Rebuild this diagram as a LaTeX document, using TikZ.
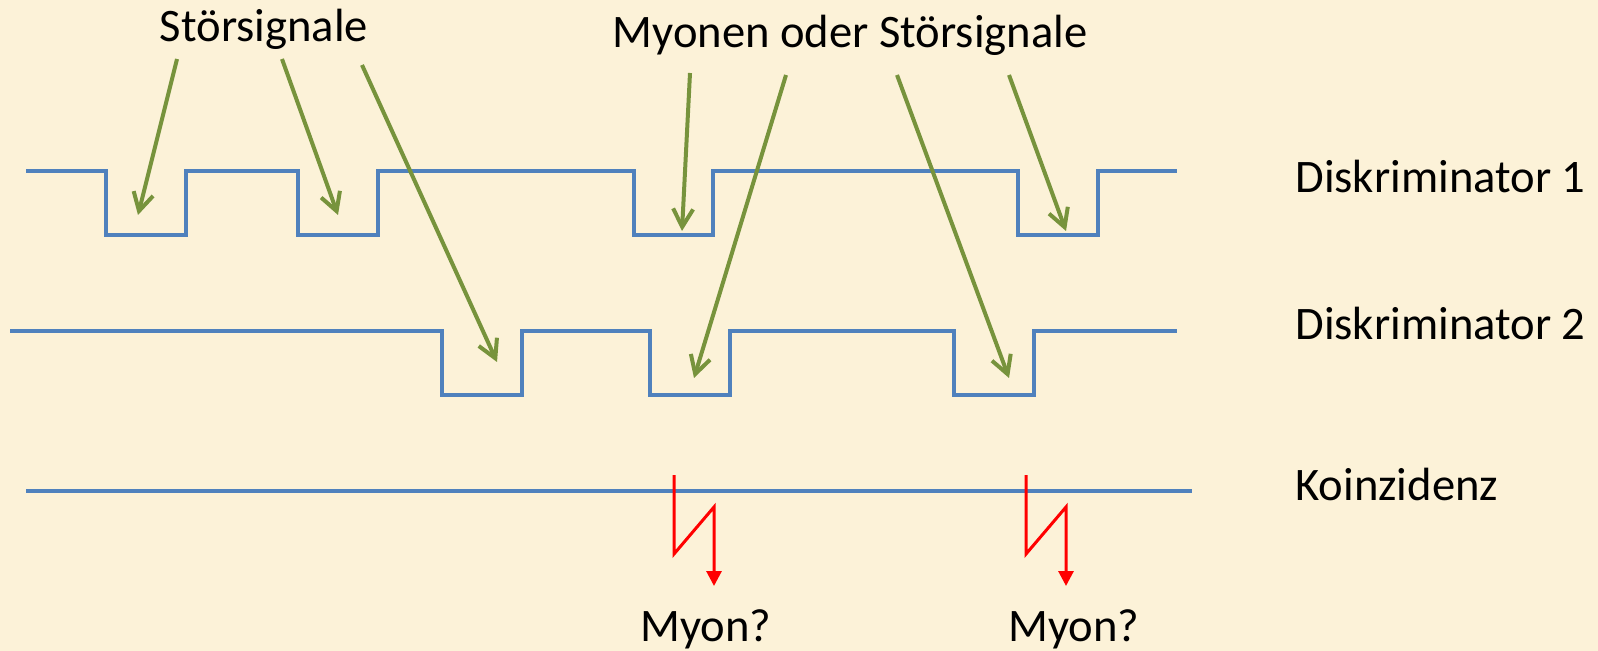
\documentclass[tikz,border=0pt]{standalone}
\usepackage{fontspec}
\setmainfont{Carlito}
\usetikzlibrary{arrows.meta}
\definecolor{bg}{RGB}{252,242,216}
\definecolor{sigblue}{RGB}{79,129,189}
\definecolor{olivegreen}{RGB}{119,147,60}
\begin{document}
\begin{tikzpicture}[x=0.5pt,y=-0.5pt,
  sig/.style={draw=sigblue, line width=1.8pt},
  pointer/.style={draw=olivegreen, line width=2pt, -{Straight Barb[length=9pt,width=10pt]}},
  hit/.style={draw=red, line width=1.5pt, -{Triangle[length=7.5pt,width=7.5pt]}},
  lbl/.style={font=\fontsize{23.3pt}{28pt}\selectfont, inner sep=0pt}]
\fill[bg] (0,0) rectangle (1598,651);
\useasboundingbox (0,0) rectangle (1598,651);

% labels
\node[lbl, anchor=base] (stoer) at (264,42) {Störsignale};
\node[lbl, anchor=base] (myst) at (850,48) {Myonen oder Störsignale};
\node[lbl, anchor=base west] (d1) at (1295,193) {Diskriminator 1};
\node[lbl, anchor=base west] (d2) at (1295,340) {Diskriminator 2};
\node[lbl, anchor=base west] (ko) at (1295,500) {Koinzidenz};
\node[lbl, anchor=base] (m1) at (706,641) {Myon?};
\node[lbl, anchor=base] (m2) at (1074,641) {Myon?};

% Diskriminator 1
\draw[sig] (26,171) -- (106,171) -- (106,235) -- (186,235) -- (186,171)
  -- (298,171) -- (298,235) -- (378,235) -- (378,171)
  -- (634,171) -- (634,235) -- (713,235) -- (713,171)
  -- (1018,171) -- (1018,235) -- (1098,235) -- (1098,171) -- (1177,171);
% Diskriminator 2
\draw[sig] (10,331) -- (442,331) -- (442,395) -- (522,395) -- (522,331)
  -- (650,331) -- (650,395) -- (730,395) -- (730,331)
  -- (954,331) -- (954,395) -- (1034,395) -- (1034,331) -- (1177,331);
% Koinzidenz
\draw[sig] (26,491) -- (1192,491);

% green pointers
\coordinate (s1) at (177,59);  \coordinate (t1) at (138,215);
\coordinate (s2) at (282,59);  \coordinate (t2) at (338,215);
\coordinate (s3) at (362,65);  \coordinate (t3) at (497,362);
\coordinate (s4) at (690,73);  \coordinate (t4) at (682,231);
\coordinate (s5) at (786,75);  \coordinate (t5) at (694,378);
\coordinate (s6) at (897,75);  \coordinate (t6) at (1009,378);
\coordinate (s7) at (1009,75); \coordinate (t7) at (1066,231);
\draw[pointer] (s1) -- (t1);
\draw[pointer] (s2) -- (t2);
\draw[pointer] (s3) -- (t3);
\draw[pointer] (s4) -- (t4);
\draw[pointer] (s5) -- (t5);
\draw[pointer] (s6) -- (t6);
\draw[pointer] (s7) -- (t7);

% red coincidence marks
\coordinate (r1a) at (674,475); \coordinate (r1b) at (674,554);
\coordinate (r1c) at (714,507); \coordinate (r1d) at (714,586);
\coordinate (r2a) at (1026,475); \coordinate (r2b) at (1026,554);
\coordinate (r2c) at (1066,507); \coordinate (r2d) at (1066,586);
\draw[hit] (r1a) -- (r1b) -- (r1c) -- (r1d);
\draw[hit] (r2a) -- (r2b) -- (r2c) -- (r2d);
\end{tikzpicture}
\end{document}
